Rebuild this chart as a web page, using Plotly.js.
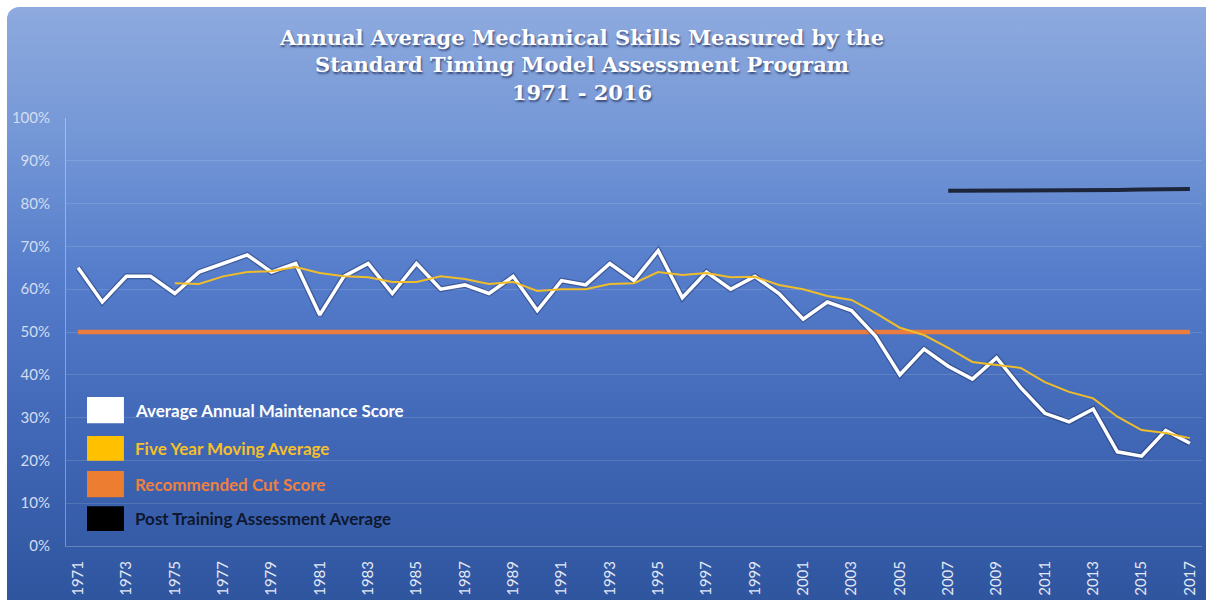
<!DOCTYPE html>
<html>
<head>
<meta charset="utf-8">
<script src="https://cdn.plot.ly/plotly-3.0.1.min.js"></script>
<style>
html,body{margin:0;padding:0;background:#ffffff;width:1206px;height:600px;overflow:hidden}
#bg{position:absolute;left:7px;top:7px;width:1199px;height:593px;border-top-left-radius:12px;
background:linear-gradient(to bottom,#8eaadf 0%,#7497d6 22%,#557dcb 45%,#4269b8 70%,#2f559f 100%)}
#chart{position:absolute;left:0;top:0;width:1206px;height:600px}
</style>
</head>
<body>
<div id="bg"></div>
<div id="chart"></div>
<script>
// ---- data ----
const years = [1971,1972,1973,1974,1975,1976,1977,1978,1979,1980,
               1981,1982,1983,1984,1985,1986,1987,1988,1989,1990,
               1991,1992,1993,1994,1995,1996,1997,1998,1999,2000,
               2001,2002,2003,2004,2005,2006,2007,2008,2009,2010,
               2011,2012,2013,2014,2015,2016,2017];
const annualScore = [65,57,63,63,59,64,66,68,64,66,
                     54,63,66,59,66,60,61,59,63,55,
                     62,61,66,62,69,58,64,60,63,59,
                     53,57,55,49,40,46,42,39,44,37,
                     31,29,32,22,21,27,24];
const movingAvgYears = [1975,1976,1977,1978,1979,1980,
                        1981,1982,1983,1984,1985,1986,1987,1988,1989,1990,
                        1991,1992,1993,1994,1995,1996,1997,1998,1999,2000,
                        2001,2002,2003,2004,2005,2006,2007,2008,2009,2010,
                        2011,2012,2013,2014,2015,2016,2017];
const movingAvg = [61.4,61.2,63.0,64.0,64.2,65.2,
                   63.8,63.0,62.8,61.7,61.7,63.0,62.4,61.2,61.7,59.6,
                   60.0,60.0,61.2,61.4,64.0,63.3,63.8,62.8,62.9,61.0,
                   60.0,58.4,57.5,54.4,51.0,49.3,46.3,43.0,42.3,41.6,
                   38.3,36.0,34.5,30.2,27.1,26.4,25.2];
const cutScore = [50,50,50,50,50,50,50,50,50,50,
                  50,50,50,50,50,50,50,50,50,50,
                  50,50,50,50,50,50,50,50,50,50,
                  50,50,50,50,50,50,50,50,50,50,
                  50,50,50,50,50,50,50];
const postYears = [2007,2008,2009,2010,2011,2012,2013,2014,2015,2016,2017];
const postAvg = [83.0,83.0,83.0,83.1,83.1,83.2,83.2,83.2,83.3,83.3,83.4];
const tickYears = [1971,1973,1975,1977,1979,1981,1983,1985,1987,1989,1991,1993,
                   1995,1997,1999,2001,2003,2005,2007,2009,2011,2013,2015,2017];
const tickLabels = ['1971','1973','1975','1977','1979','1981','1983','1985','1987','1989','1991','1993',
                    '1995','1997','1999','2001','2003','2005','2007','2009','2011','2013','2015','2017'];
const yTicks = [0,10,20,30,40,50,60,70,80,90,100];
const yTickLabels = ['0%','10%','20%','30%','40%','50%','60%','70%','80%','90%','100%'];
const seriesNames = ['Average Annual Maintenance Score','Five Year Moving Average',
                     'Recommended Cut Score','Post Training Assessment Average'];
const seriesColors = ['#ffffff','#f0bd2a','#ea7d3e','#111320'];
const legendSquareColors = ['#ffffff','#ffc000','#ed7d31','#000000'];
const legendTextColors = ['#ffffff','#f5c02a','#ee8040','#0e1830'];

const traces = [
  {x: years, y: cutScore, type:'scatter', mode:'lines', name: seriesNames[2],
   line:{color:seriesColors[2], width:4.5}, showlegend:false, hoverinfo:'skip'},
  {x: postYears, y: postAvg, type:'scatter', mode:'lines', name: seriesNames[3],
   line:{color:seriesColors[3], width:4}, opacity:0.85, showlegend:false, hoverinfo:'skip'},
  {x: years, y: annualScore, type:'scatter', mode:'lines', name: seriesNames[0]+' shadow',
   line:{color:'rgba(20,30,70,0.35)', width:6}, showlegend:false, hoverinfo:'skip'},
  {x: years, y: annualScore, type:'scatter', mode:'lines', name: seriesNames[0],
   line:{color:seriesColors[0], width:3.5}, showlegend:false, hoverinfo:'skip'},
  {x: movingAvgYears, y: movingAvg, type:'scatter', mode:'lines', name: seriesNames[1],
   line:{color:seriesColors[1], width:2}, showlegend:false, hoverinfo:'skip'}
];

// custom legend (squares + coloured labels)
const legY = [[0.348,0.287],[0.257,0.199],[0.175,0.114],[0.093,0.035]];
const shapes = [];
const annotations = [];
for (let i=0;i<4;i++){
  shapes.push({type:'rect', xref:'paper', yref:'paper', x0:0.0185, x1:0.0510,
    y0:legY[i][1], y1:legY[i][0], fillcolor: legendSquareColors[i], line:{width:0}});
  annotations.push({xref:'paper', yref:'paper', x:0.059, y:(legY[i][0]+legY[i][1])/2,
    xanchor:'left', yanchor:'middle', showarrow:false, text:'<b>'+seriesNames[i]+'</b>',
    font:{family:'Lato, "Open Sans", sans-serif', size:17, color:legendTextColors[i]}});
}

const layout = {
  width:1206, height:600,
  paper_bgcolor:'rgba(0,0,0,0)', plot_bgcolor:'rgba(0,0,0,0)',
  margin:{l:66, r:4, t:118, b:54},
  showlegend:false,
  title:{
    text:'Annual Average Mechanical Skills Measured by the<br>Standard Timing Model Assessment Program<br>1971 - 2016',
    x:0.4826, xanchor:'center', xref:'container',
    y:0.925, yanchor:'middle', yref:'container',
    font:{family:'"DejaVu Serif", serif', size:21, weight:'bold', color:'#ffffff', shadow:'1px 2px 2px rgba(20,30,70,0.65)'}
  },
  xaxis:{
    range:[1970.5, 2017.5], tickmode:'array', tickvals:tickYears, ticktext:tickLabels,
    tickangle:-90, showgrid:false, zeroline:false, showline:true,
    linecolor:'rgba(255,255,255,0.25)', linewidth:1, ticks:'',
    tickfont:{family:'Lato, "Open Sans", sans-serif', size:15, color:'#e3e9f6'},
    ticklabelstandoff:8, fixedrange:true
  },
  yaxis:{
    range:[0,100], tickmode:'array', tickvals:yTicks, ticktext:yTickLabels,
    showgrid:true, gridcolor:'rgba(255,255,255,0.13)', gridwidth:1, zeroline:false,
    showline:true, linecolor:'rgba(255,255,255,0.35)', linewidth:1, ticks:'',
    tickfont:{family:'Lato, "Open Sans", sans-serif', size:15, color:'#d3ddf1'},
    ticklabelstandoff:12, fixedrange:true
  },
  shapes:shapes,
  annotations:annotations
};

Plotly.newPlot('chart', traces, layout, {displayModeBar:false, staticPlot:true});
</script>
</body>
</html>
